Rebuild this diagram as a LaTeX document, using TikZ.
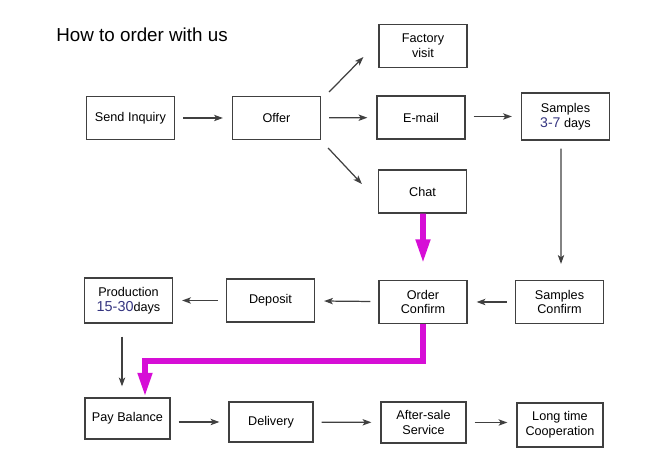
\documentclass[tikz,border=0pt]{standalone}
\usepackage{fontspec}
\setmainfont{Liberation Sans}
\usetikzlibrary{arrows.meta}

\definecolor{numblue}{RGB}{52,52,128}
\definecolor{linegray}{RGB}{64,64,64}
\definecolor{pink}{RGB}{214,14,214}

\begin{document}
\begin{tikzpicture}[x=0.02cm, y=-0.02cm,
    box/.style={draw=linegray, line width=0.7pt, minimum width=1.76cm, minimum height=0.86cm,
        align=center, inner sep=1pt, font=\fontsize{7.2}{8.5}\selectfont},
    line/.style={draw=linegray, line width=0.7pt, -{Stealth[length=5pt,width=3.6pt,inset=1.2pt]},
        shorten <=0.16cm, shorten >=0.18cm},
    pinkline/.style={draw=pink, line width=3.4pt, -{Triangle[length=14pt,width=7.6pt]}}]
    \useasboundingbox (0,0) rectangle (650,465);

    \node[anchor=base west, inner sep=0pt, font=\fontsize{10.7}{12}\selectfont] (title) at (56,42) {How to order with us};

    % first row
    \node[box] (inquiry) at (130.5,118) {Send Inquiry};
    \node[box] (offer) at (276.5,118) {Offer};
    \node[box] (factory) at (423,46) {Factory\\visit};
    \node[box] (email) at (421,117.5) {E-mail};
    \node[box] (chat) at (422.5,191.5) {Chat};
    \node[box, minimum height=0.94cm] (samples) at (565.5,116.5)
        {Samples\\{\color{numblue}\fontsize{8}{8.5}\selectfont 3-7} days};

    % second row
    \node[box, minimum height=0.9cm] (production) at (128.5,300.5)
        {Production\\{\color{numblue}\fontsize{8.2}{8.5}\selectfont 15-30}days};
    \node[box] (deposit) at (270.5,300.5) {Deposit};
    \node[box] (order) at (423,302) {Order\\Confirm};
    \node[box] (sconfirm) at (559.5,302) {Samples\\Confirm};

    % third row
    \node[box, minimum width=1.7cm, minimum height=0.82cm] (balance) at (127.5,418.5) {Pay Balance};
    \node[box, minimum width=1.68cm, minimum height=0.8cm] (delivery) at (271,422) {Delivery};
    \node[box, minimum width=1.7cm, minimum height=0.82cm] (aftersale) at (423.5,422.5) {After-sale\\Service};
    \node[box, minimum width=1.72cm, minimum height=0.88cm] (longtime) at (560,425) {Long time\\Cooperation};

    \draw[line] (inquiry) -- (offer);
    \draw[line, shorten <=0pt, shorten >=0pt] ([shift={(8,-26)}]offer.east) -- ([shift={(-15,11)}]factory.west);
    \draw[line] (offer) -- (email);
    \draw[line, shorten <=0pt, shorten >=0pt] ([shift={(7,30)}]offer.east) -- ([shift={(-16,-7.5)}]chat.west);
    \draw[line] (email.east |- samples) -- (samples);
    \draw[line, shorten >=0.32cm] ([shift={(-4.5,0)}]samples.south) -- ([shift={(1.5,0)}]sconfirm.north);
    \draw[line] (sconfirm) -- (order);
    \draw[line] (order) -- (deposit);
    \draw[line] (deposit) -- (production);
    \draw[line, shorten <=0.26cm, shorten >=0.22cm] ([shift={(-6.5,0)}]production.south) -- ([shift={(-5.5,0)}]balance.north);
    \draw[line] (balance.east |- delivery) -- (delivery);
    \draw[line] (delivery) -- (aftersale);
    \draw[line] (aftersale) -- (aftersale -| longtime.west);

    % pink route
    \coordinate (turn) at (145,361);
    \draw[pinkline, shorten >=0.32cm] ([shift={(0.5,0)}]chat.south) -- (order.north);
    \draw[pinkline] (order.south) |- (turn) -- (turn |- balance.north);
\end{tikzpicture}
\end{document}
